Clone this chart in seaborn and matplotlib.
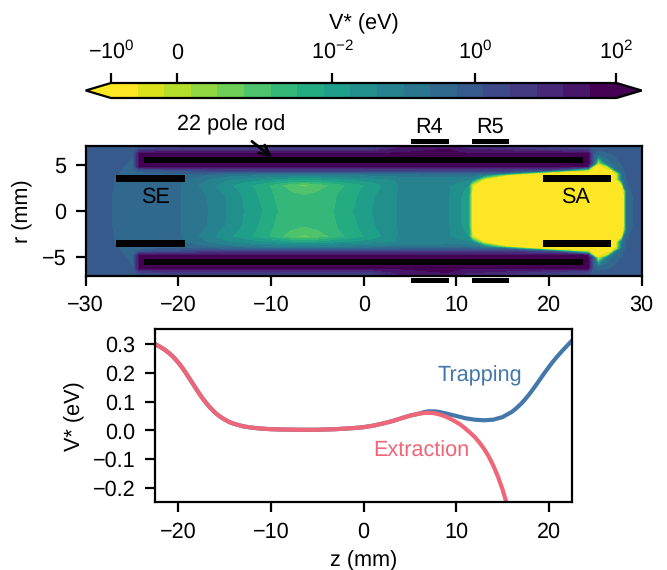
import numpy as np
import seaborn as sns
import pandas as pd
import matplotlib
matplotlib.use('Agg')
import matplotlib.pyplot as plt
from matplotlib.cm import ScalarMappable
from matplotlib.colors import BoundaryNorm

sns.set_theme(style='ticks', context='paper')
plt.rcParams['font.family'] = ['Liberation Sans', 'DejaVu Sans']
plt.rcParams['mathtext.fontset'] = 'custom'
plt.rcParams['mathtext.rm'] = 'Liberation Sans'
plt.rcParams['mathtext.default'] = 'regular'
plt.rcParams['text.hinting'] = 'no_hinting'
plt.rcParams['font.size'] = 7.8
plt.rcParams['axes.labelsize'] = 7.8
plt.rcParams['xtick.labelsize'] = 7.8
plt.rcParams['ytick.labelsize'] = 7.8
plt.rcParams['axes.edgecolor'] = 'black'
plt.rcParams['axes.linewidth'] = 0.8
plt.rcParams['xtick.major.size'] = 3.5
plt.rcParams['ytick.major.size'] = 3.5
plt.rcParams['xtick.major.width'] = 0.8
plt.rcParams['ytick.major.width'] = 0.8
plt.rcParams['xtick.color'] = 'black'
plt.rcParams['ytick.color'] = 'black'
plt.rcParams['text.color'] = 'black'
plt.rcParams['axes.labelcolor'] = 'black'

# colour bar
cbar_levels = [-1, -0.58, -0.0008, 0.00084, 0.00257, 0.00429, 0.00602, 0.00774, 0.0085, 0.0133,
               0.0422, 0.0989, 0.232, 0.544, 1.2, 3.07, 7.33, 17.5, 41.9, 100]
cbar_ticks = [-1, 0, 0.01, 1, 100]
cbar_ticklabels = ['$-10^{0}$', '$0$', '$10^{-2}$', '$10^{0}$', '$10^{2}$']

# potential map, upper half (mirrored for r < 0)
map_z = [-30, -27.5, -26, -24.9, -24.2, -20, -17, -15, -13, -11, -9.5, -7.9, -6.4, -4.9, -3.2, -1.1, 1,
         4, 9, 10.5, 11.3, 11.7, 13, 16, 20, 24.2, 24.8, 25.3, 26.3, 26.8, 27.3, 27.9, 28.1, 28.4, 30]
map_r = [0, 1.5, 2.2, 2.8, 3.4, 3.9, 4.15, 4.4, 4.8, 5.1, 6.2, 6.6, 7]
v_r00 = [1.1, .593, .45, .4, .38, .253, .108, .046, .0133, .0085, .0078, .0068, .0066, .0068, .0077, .0085, .0133,
         .05, .05, .0133, .0085, -.8, -.8, -.8, -.8, -.8, -.8, -.8, -.8, -.8, -.8, -.8, -.8, .3, 1.15]
v_r15 = [1.1, .593, .45, .4, .38, .26, .1, .042, .0128, .0083, .0075, .0066, .0062, .0066, .0075, .0083, .0128,
         .05, .05, .0133, .0085, -.8, -.8, -.8, -.8, -.8, -.8, -.8, -.8, -.8, -.8, -.8, -.7, .32, 1.15]
v_r22 = [1.12, .6, .46, .41, .39, .265, .085, .03, .0118, .0082, .0072, .0058, .0052, .0058, .0072, .0082, .0117,
         .05, .05, .02, .011, -.7, -.8, -.8, -.8, -.8, -.8, -.8, -.8, -.8, -.8, -.8, -.3, .4, 1.15]
v_r28 = [1.15, .62, .47, .42, .4, .28, .07, .024, .0105, .0081, .0068, .0048, .0036, .0048, .0064, .0081, .0105,
         .05, .05, .025, .014, -.5, -.8, -.8, -.8, -.8, -.8, -.8, -.8, -.8, -.8, -.6, .15, .5, 1.15]
v_r34 = [1.15, .62, .47, .45, .42, .3, .1, .05, .03, .016, .012, .0095, .009, .0095, .012, .016, .026,
         .05, .06, .06, .05, .04, -.8, -.8, -.8, -.8, -.8, -.8, -.8, -.8, -.8, .2, .3, .55, 1.15]
v_r39 = [1.2, .66, .5, .45, .42, .45, .25, .15, .12, .1, .09, .08, .08, .08, .09, .1, .12,
         .15, .17, .17, .17, .16, .08, -.8, -.8, -.8, -.8, -.8, -.8, -.8, -.6, .3, .45, .6, 1.15]
v_r41 = [1.2, .7, .52, .48, .5, .8, .8, .6, .6, .6, .6, .6, .6, .6, .6, .6, .6,
         .7, .7, .7, .7, .7, .7, .4, -.8, -.8, -.8, -.8, -.8, -.8, 0, .4, .5, .62, 1.15]
v_r44 = [1.2, .72, .53, .5, .7, 1.5, 3, 3, 3, 3, 3, 3, 3, 3, 3, 3, 3,
         3, 3, 3, 3, 3, 3, 3, 2, -.3, -.8, -.8, -.8, -.8, .2, .5, .55, .65, 1.15]
v_r48 = [1.2, .75, .55, .5, 45, 45, 45, 45, 45, 45, 45, 45, 45, 45, 45, 45, 45,
         45, 45, 45, 45, 45, 45, 45, 45, 45, -.6, -.8, -.1, .15, .3, .5, .6, .7, 1.15]
v_r51 = [1.2, .85, .6, .5, 45, 45, 45, 45, 45, 45, 45, 45, 45, 45, 45, 45, 45,
         45, 45, 45, 45, 45, 45, 45, 45, 45, .5, -.7, .1, .25, .4, .6, .7, .8, 1.15]
v_r62 = [1.2, .95, .7, .55, 45, 45, 45, 45, 45, 45, 45, 45, 45, 45, 45, 45, 45,
         45, 45, 45, 45, 45, 45, 45, 45, 45, .6, .4, .5, .6, .75, .85, .9, 1, 1.2]
v_r66 = [1.2, 1.0, .75, .55, 3, 6, 6, 6, 6, 6, 6, 6, 6, 6, 6, 6, 6,
         35, 45, 35, 20, 18, 18, 12, 5, 3, .7, .6, .7, .8, .9, 1, 1, 1, 1.2]
v_r70 = [1.2, 1.1, .8, .5, .8, 1.6, 1.6, 1.6, 1.6, 1.6, 1.6, 1.6, 1.6, 1.6, 1.6, 1.6, 1.8,
         14, 25, 14, 8, 6, 6, 4, 1.8, 1.2, 1, .95, 1, 1, 1, 1.05, 1.1, 1.1, 1.2]

# electrodes
rod_z = [-23.7, 23.7]
rod_r = [5.2, 5.8]
se_z = [-26.7, -19.3]
sa_z = [19.4, 26.7]
end_r = [3.15, 3.88]
r4_z = [5.1, 9.2]
r5_z = [11.7, 15.7]
ring_r = [7.25, 7.8]

# on-axis curves
shared_z = [-22.5, -22, -21.5, -21, -20.5, -20, -19.5, -19, -18.5, -18, -17.5, -17, -16.5, -16, -15.5, -15, -14.5, -14,
            -13, -12, -11, -10, -9, -8, -7, -6, -5, -4, -3, -2, -1, 0, 1, 2, 3, 4, 5, 6]
shared_v = [.30, .291, .281, .269, .254, .236, .215, .191, .166, .141, .117, .096, .077, .061, .048, .038, .029, .023,
            .014, .009, .006, .004, .003, .0025, .002, .002, .002, .003, .004, .006, .008, .011, .016, .023, .031, .041, .051, .058]
trap_z = [6.5, 7, 7.5, 8, 9, 10, 11, 12, 13, 14, 15, 16, 16.5, 17, 17.5, 18, 18.5, 19, 19.5, 20, 20.5, 21, 21.5, 22, 22.5]
trap_v = [.063, .066, .066, .065, .058, .05, .042, .037, .035, .037, .046, .064, .077, .092, .11, .13, .152, .175,
          .198, .22, .241, .26, .278, .295, .312]
extr_z = [6.5, 7, 7.5, 8, 8.5, 9, 9.5, 10, 10.5, 11, 11.5, 12, 12.5, 13, 13.5, 14, 14.5, 15, 15.6]
extr_v = [.06, .061, .06, .057, .052, .046, .038, .029, .019, .006, -.008, -.023, -.042, -.064, -.09, -.122, -.16, -.205, -.27]

W, H = 667, 570
fig = plt.figure(figsize=(W / 200, H / 200), dpi=200)


def axes_px(left, top, right, bottom):
    return fig.add_axes([left / W, 1 - bottom / H, (right - left) / W, (bottom - top) / H])


cax = axes_px(85.7, 83, 641.7, 98)
ax_map = axes_px(85.7, 146, 641.7, 275.7)
ax_line = axes_px(155, 329.3, 572, 502.3)

cmap = plt.get_cmap('viridis_r').resampled(19)
norm = BoundaryNorm(cbar_levels, 19)

# contour on the colour-bar index so the bands stay evenly spread
upper = np.array([v_r00, v_r15, v_r22, v_r28, v_r34, v_r39, v_r41, v_r44, v_r48, v_r51, v_r62, v_r66, v_r70])
full = np.vstack([upper[:0:-1], upper])
rr = np.concatenate([-np.array(map_r)[:0:-1], map_r])
index = np.interp(full, cbar_levels, np.arange(20))
ax_map.contourf(map_z, rr, index, levels=np.arange(20), cmap=cmap, vmin=0, vmax=19)

for sign in [1, -1]:
    ax_map.fill_between(rod_z, sign * rod_r[0], sign * rod_r[1], color='black', lw=0)
    for ends in [se_z, sa_z]:
        ax_map.fill_between(ends, sign * end_r[0], sign * end_r[1], color='black', lw=0)
    for ring in [r4_z, r5_z]:
        ax_map.fill_between(ring, sign * ring_r[0], sign * ring_r[1], color='black', lw=0, clip_on=False)

ax_map.set_xlim(-30, 30)
ax_map.set_ylim(-7, 7)
ax_map.set_xticks([-30, -20, -10, 0, 10, 20, 30])
ax_map.set_yticks([-5, 0, 5])
ax_map.set_ylabel('r (mm)', labelpad=3)
ax_map.text(-22.5, 1.45, 'SE', ha='center', va='center')
ax_map.text(22.8, 1.45, 'SA', ha='center', va='center')
ax_map.text(7.1, 9.05, 'R4', ha='center', va='center')
ax_map.text(13.6, 9.05, 'R5', ha='center', va='center')
ax_map.annotate('22 pole rod', xy=(-9.9, 5.8), xytext=(-14.3, 9.25), ha='center', va='center',
                arrowprops=dict(arrowstyle='->', color='black', lw=1, shrinkA=0, shrinkB=0, mutation_scale=9))

cb = fig.colorbar(ScalarMappable(norm=norm, cmap=cmap), cax=cax, orientation='horizontal',
                  extend='both', spacing='uniform')
cb.set_ticks(cbar_ticks, labels=cbar_ticklabels)
cb.ax.minorticks_off()
cb.ax.xaxis.set_ticks_position('top')
cb.ax.xaxis.set_label_position('top')
cb.set_label('V* (eV)', labelpad=4)
cb.outline.set_linewidth(0.8)

df = pd.DataFrame({
    'z': shared_z + trap_z + shared_z + extr_z,
    'v': shared_v + trap_v + shared_v + extr_v,
    'mode': ['Trapping'] * (len(shared_z) + len(trap_z)) + ['Extraction'] * (len(shared_z) + len(extr_z)),
})
sns.lineplot(data=df, x='z', y='v', hue='mode', palette={'Trapping': '#4477AA', 'Extraction': '#EE6677'},
             lw=1.5, ax=ax_line, legend=False, errorbar=None)
ax_line.set_xlim(-22.5, 22.5)
ax_line.set_ylim(-0.25, 0.351)
ax_line.set_xticks([-20, -10, 0, 10, 20])
ax_line.set_yticks([-0.2, -0.1, 0, 0.1, 0.2, 0.3])
ax_line.set_xlabel('z (mm)', labelpad=3)
ax_line.set_ylabel('V* (eV)', labelpad=3)
ax_line.text(12.5, 0.19, 'Trapping', color='#4477AA', ha='center', va='center')
ax_line.text(6.2, -0.072, 'Extraction', color='#EE6677', ha='center', va='center')

fig.savefig('out.png', dpi=200)
